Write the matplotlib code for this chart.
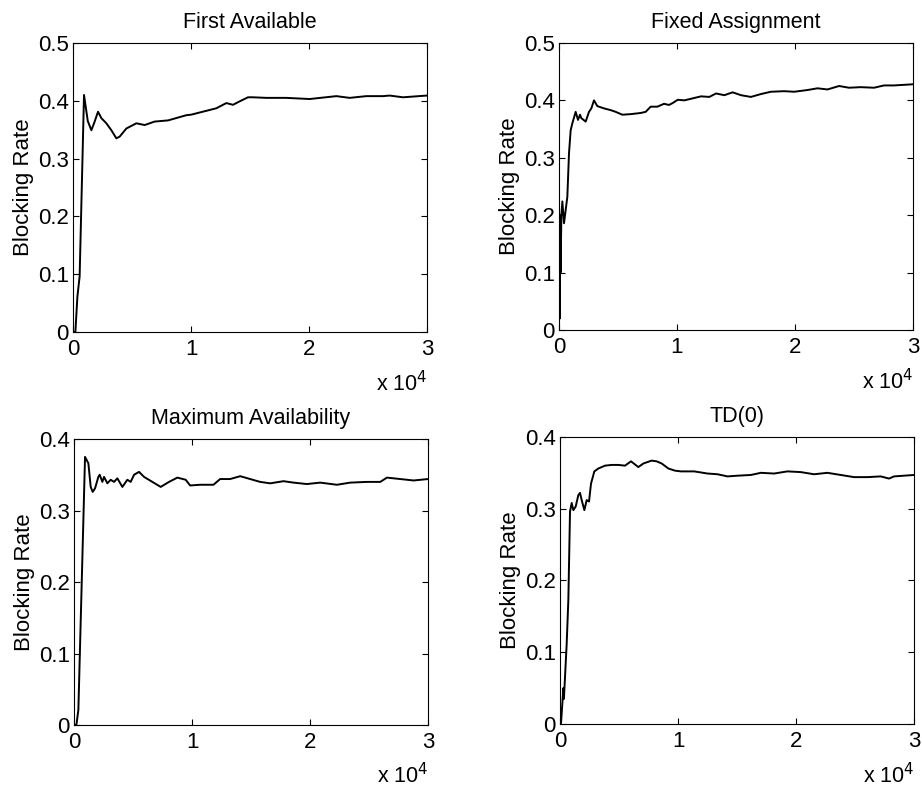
# Blocking rate vs. number of calls, four channel allocation policies
import matplotlib
matplotlib.use('Agg')
import matplotlib.pyplot as plt

plt.rcParams['font.family'] = ['Liberation Sans', 'DejaVu Sans']

# --- data (x = calls, y = blocking rate) -----------------------------
titles = ['First Available', 'Fixed Assignment', 'Maximum Availability', 'TD(0)']

fa_x = [0, 200, 370, 560, 932, 1250, 1553, 1800, 2119, 2400, 2825, 3249, 3673,
        3955, 4520, 5367, 6073, 6920, 8051, 9604, 10028, 12147, 12994, 13559,
        14124, 14831, 15254, 16384, 18079, 20056, 22316, 23446, 24859, 26271,
        26836, 27966, 30000]
fa_y = [0.0, 0.0, 0.061, 0.096, 0.410, 0.365, 0.349, 0.362, 0.381, 0.370,
        0.361, 0.349, 0.335, 0.338, 0.352, 0.361, 0.358, 0.364, 0.366, 0.375,
        0.376, 0.387, 0.396, 0.393, 0.399, 0.406, 0.406, 0.405, 0.405, 0.403,
        0.408, 0.405, 0.408, 0.408, 0.409, 0.406, 0.409]

fx_x = [0, 30, 60, 90, 130, 200, 283, 424, 565, 706, 847, 989, 1130, 1412,
        1610, 1780, 1893, 2260, 2542, 2740, 2966, 3249, 3814, 4379, 4802, 5367,
        6073, 6920, 7345, 7769, 8333, 8898, 9322, 9604, 10065, 10629, 12038,
        12743, 13307, 14012, 14717, 15422, 16267, 17113, 17959, 19086, 19932,
        21060, 21906, 22752, 23738, 24584, 25571, 26699, 27544, 28390, 30000]
fx_y = [0.0, 0.20, 0.02, 0.20, 0.10, 0.20, 0.224, 0.186, 0.209, 0.232, 0.308,
        0.348, 0.360, 0.380, 0.366, 0.375, 0.369, 0.363, 0.380, 0.386, 0.400,
        0.390, 0.386, 0.383, 0.380, 0.375, 0.376, 0.378, 0.380, 0.389, 0.389,
        0.394, 0.392, 0.395, 0.401, 0.400, 0.407, 0.406, 0.412, 0.409, 0.414,
        0.409, 0.406, 0.411, 0.415, 0.416, 0.415, 0.418, 0.421, 0.419, 0.425,
        0.422, 0.423, 0.422, 0.426, 0.426, 0.428]

ma_x = [0, 200, 367, 932, 1215, 1412, 1582, 1780, 2062, 2175, 2401, 2543,
        2825, 3107, 3390, 3672, 4096, 4520, 4802, 5085, 5509, 5933, 6638, 7345,
        8051, 8757, 9463, 9839, 10687, 11818, 12383, 13231, 14080, 14928,
        15776, 16624, 17755, 18603, 19734, 20865, 22279, 23410, 24823, 25954,
        26519, 27650, 28781, 30000]
ma_y = [0.0, 0.0, 0.021, 0.375, 0.366, 0.333, 0.326, 0.331, 0.347, 0.350,
        0.340, 0.347, 0.338, 0.343, 0.340, 0.345, 0.333, 0.343, 0.340, 0.350,
        0.354, 0.347, 0.340, 0.333, 0.340, 0.346, 0.343, 0.335, 0.336, 0.336,
        0.344, 0.344, 0.348, 0.344, 0.340, 0.338, 0.341, 0.339, 0.337, 0.339,
        0.336, 0.339, 0.340, 0.340, 0.346, 0.344, 0.342, 0.344]

td_x = [0, 85, 198, 282, 330, 565, 706, 847, 989, 1130, 1328, 1553, 1695,
        1836, 2062, 2260, 2458, 2627, 2909, 3249, 3814, 4379, 4943, 5509, 6016,
        6638, 7062, 7769, 8192, 8616, 9181, 9746, 10245, 11374, 12504, 13350,
        14197, 15044, 16173, 17020, 18149, 19277, 20406, 21535, 22664, 23794,
        24922, 26051, 27180, 27886, 28309, 30000]
td_y = [0.0, 0.001, 0.029, 0.050, 0.035, 0.112, 0.173, 0.296, 0.308, 0.298,
        0.303, 0.319, 0.322, 0.312, 0.298, 0.312, 0.310, 0.335, 0.352, 0.356,
        0.360, 0.361, 0.361, 0.360, 0.366, 0.358, 0.363, 0.367, 0.366, 0.363,
        0.356, 0.353, 0.352, 0.352, 0.349, 0.348, 0.345, 0.346, 0.347, 0.350,
        0.349, 0.352, 0.351, 0.348, 0.350, 0.347, 0.344, 0.344, 0.345, 0.342,
        0.345, 0.347]

series = [(fa_x, fa_y), (fx_x, fx_y), (ma_x, ma_y), (td_x, td_y)]
y_tops = [0.5, 0.5, 0.4, 0.4]
x_ticks = [0, 10000, 20000, 30000]
x_tick_labels = ['0', '1', '2', '3']

# axes boxes in figure fractions (left, bottom, width, height)
boxes = [(0.0792, 0.5819, 0.3839, 0.3640),
         (0.6063, 0.5844, 0.3839, 0.3615),
         (0.0803, 0.0869, 0.3839, 0.3602),
         (0.6074, 0.0882, 0.3839, 0.3615)]

fs = 16
fig = plt.figure(figsize=(9.22, 7.94), dpi=100)

for box, title, (xs, ys), ytop in zip(boxes, titles, series, y_tops):
    ax = fig.add_axes(box)
    ax.plot(xs, ys, color='black', lw=1.4)
    ax.set_xlim(0, 30000)
    ax.set_ylim(0, ytop)
    ax.set_xticks(x_ticks)
    ax.set_xticklabels(x_tick_labels)
    ax.set_yticks([round(0.1 * i, 1) for i in range(int(round(ytop * 10)) + 1)])
    ax.yaxis.set_major_formatter(plt.FuncFormatter(lambda v, p: '0' if v == 0 else f'{v:.1f}'))
    ax.tick_params(direction='in', top=True, right=True, length=4, width=0.8,
                   labelsize=fs)
    ax.tick_params(axis='x', pad=5)
    ax.tick_params(axis='y', pad=3)
    for s in ax.spines.values():
        s.set_linewidth(0.8)
    ax.set_title(title, fontsize=fs - 0.5, pad=11)
    ax.set_ylabel('Blocking Rate', fontsize=fs, labelpad=3)
    ax.text(1.0, -0.205, r'x 10$^4$', transform=ax.transAxes, ha='right',
            va='baseline', fontsize=fs - 0.5)

fig.savefig('out.png', dpi=100)
